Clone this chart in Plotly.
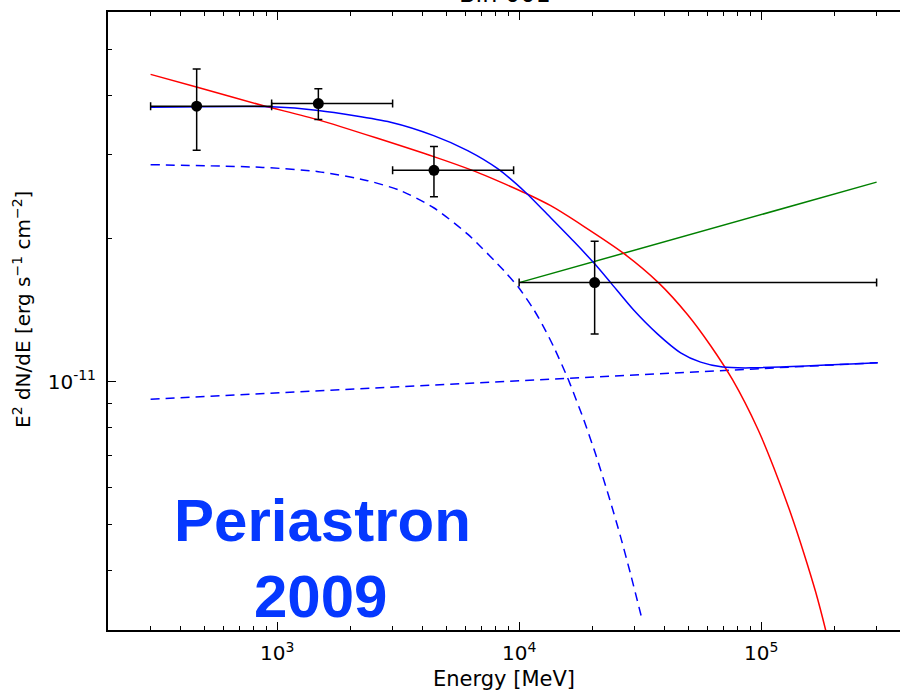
import plotly.graph_objects as go

# ---- data ----
pt_energy = [465, 1480, 4446, 20510]
pt_flux = [3.80e-11, 3.85e-11, 2.785e-11, 1.616e-11]
pt_flux_hi = [4.55e-11, 4.135e-11, 3.125e-11, 1.976e-11]
pt_flux_lo = [3.07e-11, 3.562e-11, 2.45e-11, 1.259e-11]
bin_lo = [300, 949, 3000, 10000]
bin_hi = [949, 3000, 9487, 300000]

red_e = [300, 468, 871, 1480, 4434, 6611, 8386, 10640, 13500, 18480, 27030,
         37710, 49690, 61850, 76260, 96720, 112600, 132400, 149800,
         168000, 184800, 193800]
red_f = [4.434e-11, 4.168e-11, 3.813e-11, 3.557e-11, 2.976e-11, 2.767e-11,
         2.630e-11, 2.492e-11, 2.346e-11, 2.123e-11, 1.862e-11, 1.614e-11,
         1.383e-11, 1.190e-11, 1.008e-11, 7.959e-12, 6.605e-12,
         5.284e-12, 4.370e-12, 3.606e-12, 2.997e-12, 2.700e-12]

blue_e = [300, 949, 1480, 2944, 4434, 6127, 8150, 10640, 13500, 16800, 20510,
          23880, 29730, 37360, 46480, 56230, 69340, 90490, 303000]
blue_f = [3.781e-11, 3.789e-11, 3.721e-11, 3.516e-11, 3.295e-11, 3.064e-11,
          2.807e-11, 2.502e-11, 2.213e-11, 1.974e-11, 1.770e-11, 1.616e-11,
          1.415e-11, 1.259e-11, 1.150e-11, 1.099e-11, 1.073e-11, 1.069e-11,
          1.096e-11]

comp1_e = [300, 871, 1480, 2366, 3238, 4434, 6127, 8796, 9950, 11480, 12630,
           13890, 15570, 16320, 18480, 20710, 23430, 26270, 28890, 32300]
comp1_f = [2.862e-11, 2.825e-11, 2.767e-11, 2.649e-11, 2.523e-11, 2.323e-11,
           2.044e-11, 1.697e-11, 1.578e-11, 1.419e-11, 1.303e-11, 1.184e-11,
           1.041e-11, 9.82e-12, 8.32e-12, 7.03e-12, 5.752e-12, 4.707e-12,
           3.929e-12, 3.139e-12]

comp2_e = [300, 303000]
comp2_f = [9.185e-12, 1.096e-11]

green_e = [10000, 300000]
green_f = [1.616e-11, 2.63e-11]

x_major = [1e3, 1e4, 1e5]
x_major_text = ["10<sup>3</sup>", "10<sup>4</sup>", "10<sup>5</sup>"]
y_major = [1e-11]
y_major_text = ["10<sup>-11</sup>"]

x_minor = [k * 10 ** d for d in range(2, 6) for k in range(2, 10)]
y_minor = [k * 1e-12 for k in range(3, 10)] + [k * 1e-11 for k in range(2, 7)]

AX_FONT = "DejaVu Sans"
SM = 0.7

fig = go.Figure()

fig.add_trace(go.Scatter(x=comp1_e, y=comp1_f, mode="lines",
                         line=dict(color="#0000ff", width=1.5, dash="9px,6px", shape="spline", smoothing=SM),
                         showlegend=False))
fig.add_trace(go.Scatter(x=comp2_e, y=comp2_f, mode="lines",
                         line=dict(color="#0000ff", width=1.5, dash="9px,6px"),
                         showlegend=False))
fig.add_trace(go.Scatter(x=green_e, y=green_f, mode="lines",
                         line=dict(color="#008000", width=1.5),
                         showlegend=False))
fig.add_trace(go.Scatter(x=red_e, y=red_f, mode="lines",
                         line=dict(color="#ff0000", width=1.5, shape="spline", smoothing=SM),
                         showlegend=False))
fig.add_trace(go.Scatter(x=blue_e, y=blue_f, mode="lines",
                         line=dict(color="#0000ff", width=1.5, shape="spline", smoothing=SM),
                         showlegend=False))

fig.add_trace(go.Scatter(
    x=pt_energy, y=pt_flux, mode="markers",
    marker=dict(color="black", size=11),
    error_y=dict(type="data", symmetric=False,
                 array=[h - f for h, f in zip(pt_flux_hi, pt_flux)],
                 arrayminus=[f - l for f, l in zip(pt_flux, pt_flux_lo)],
                 color="black", thickness=1.5, width=4),
    error_x=dict(type="data", symmetric=False,
                 array=[h - e for h, e in zip(bin_hi, pt_energy)],
                 arrayminus=[e - l for e, l in zip(pt_energy, bin_lo)],
                 color="black", thickness=1.5, width=4),
    showlegend=False))

fig.add_annotation(text="Bin 001", xref="paper", yref="paper", x=0.501, y=1.004,
                   xanchor="center", yanchor="bottom", showarrow=False,
                   font=dict(family=AX_FONT, size=24, color="black"))

fig.add_annotation(text="<b>Periastron</b>", xref="paper", yref="paper",
                   x=(322 - 108) / 792, y=1 - (520 - 12) / 618,
                   xanchor="center", yanchor="middle", showarrow=False,
                   font=dict(family="Liberation Sans", size=60, color="#0538ff"))
fig.add_annotation(text="<b>2009</b>", xref="paper", yref="paper",
                   x=(320 - 108) / 792, y=1 - (596 - 12) / 618,
                   xanchor="center", yanchor="middle", showarrow=False,
                   font=dict(family="Liberation Sans", size=60, color="#0538ff"))

# y-axis title (placed as rotated text to match reference position)
fig.add_annotation(text="E<sup>2</sup> dN/dE [erg s<sup>−1</sup> cm<sup>−2</sup>]",
                   xref="paper", yref="paper",
                   x=(22 - 108) / 792, y=1 - (310 - 12) / 618,
                   xanchor="center", yanchor="middle", textangle=-90, showarrow=False,
                   font=dict(family=AX_FONT, size=20, color="black"))

fig.update_layout(
    width=900, height=691,
    margin=dict(l=108, r=0, t=12, b=61),
    plot_bgcolor="white", paper_bgcolor="white",
    font=dict(family=AX_FONT, size=20, color="black"),
)

fig.update_xaxes(
    type="log", range=[2.30103, 2.30103 + 792 / 242],
    tickvals=x_major, ticktext=x_major_text,
    ticks="inside", ticklen=8, tickwidth=1, tickcolor="black",
    showline=True, linewidth=2, linecolor="black", mirror="allticks",
    showgrid=False, zeroline=False, automargin=False,
    tickfont=dict(family=AX_FONT, size=20), ticklabelstandoff=4,
    minor=dict(tickvals=x_minor, ticks="inside", ticklen=4, tickcolor="black", showgrid=False),
    title=dict(text="Energy [MeV]", font=dict(family=AX_FONT, size=21), standoff=11),
)
fig.update_yaxes(
    type="log", range=[-11.52288, -10.22185],
    tickvals=y_major, ticktext=y_major_text,
    ticks="inside", ticklen=8, tickwidth=1, tickcolor="black",
    showline=True, linewidth=2, linecolor="black", mirror=False,
    showgrid=False, zeroline=False, automargin=False,
    tickfont=dict(family=AX_FONT, size=20), ticklabelstandoff=6,
    minor=dict(tickvals=y_minor, ticks="inside", ticklen=4, tickcolor="black", showgrid=False),
)

fig.write_html("out.html")
